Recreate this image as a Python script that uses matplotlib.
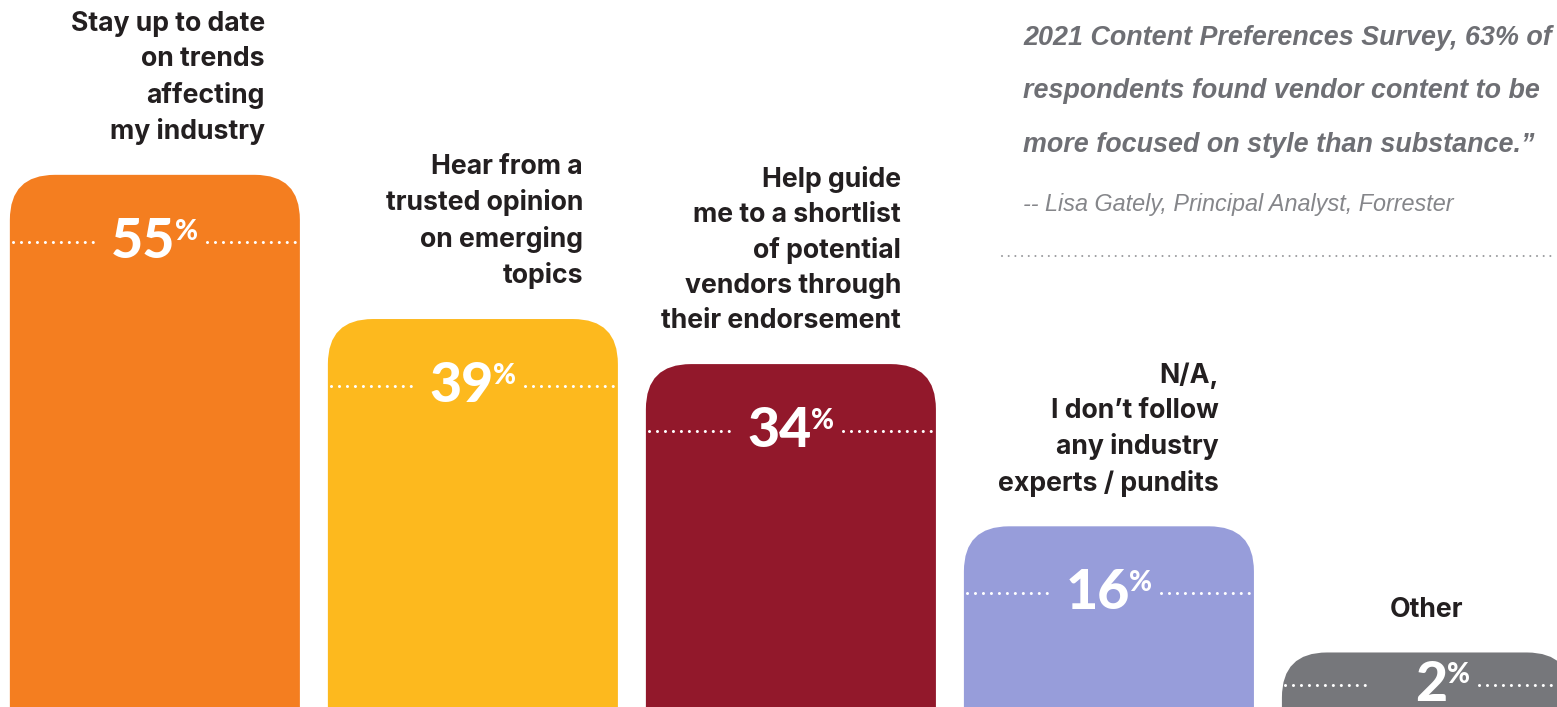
import matplotlib
matplotlib.use("Agg")
import matplotlib.pyplot as plt
from matplotlib.patches import FancyBboxPatch

# survey answers, left to right
categories = [
    "Stay up to date\non trends\naffecting\nmy industry",
    "Hear from a\ntrusted opinion\non emerging\ntopics",
    "Help guide\nme to a shortlist\nof potential\nvendors through\ntheir endorsement",
    "N/A,\nI don\u2019t follow\nany industry\nexperts / pundits",
    "Other",
]
values = [55, 39, 34, 16, 2]
colors = ["#F47E20", "#FDB91E", "#92182B", "#979DDA", "#76777B"]
label_align = ["right", "right", "right", "right", "center"]

quote_lines = [
    "2021 Content Preferences Survey, 63% of",
    "respondents found vendor content to be",
    "more focused on style than substance.\u201d",
]
attribution = "-- Lisa Gately, Principal Analyst, Forrester"

W, H = 1557, 707
fig = plt.figure(figsize=(W / 100, H / 100), dpi=100)
ax = fig.add_axes([0, 0, 1, 1])
x_min, x_max = -0.487, 4.409
y_min, y_max = -4.05, 74.4
ax.set_xlim(x_min, x_max)
ax.set_ylim(y_min, y_max)
ax.axis("off")

px_x = W / (x_max - x_min)   # pixels per category step
px_y = H / (y_max - y_min)   # pixels per percent
bar_w = 0.912
radius = 45 / px_x
base = -12  # bars run off the bottom edge

label_font = "Inter"
num_font = "Lato"
dots = dict(color="white", lw=2.2, linestyle=(0, (0.01, 2.6)),
            dash_capstyle="round")

for i, (cat, v, c) in enumerate(zip(categories, values, colors)):
    left = i - bar_w / 2
    right = i + bar_w / 2
    bar = FancyBboxPatch((left, base), bar_w, v - base,
                         boxstyle="round,pad=0,rounding_size=%f" % radius,
                         mutation_aspect=px_x / px_y,
                         facecolor=c, edgecolor="none")
    ax.add_patch(bar)

    # percentage with a dotted rule through it
    ly = max(v - 7.4, -1.6)
    ax.plot([left + 0.01, i - 0.18], [ly, ly], **dots)
    ax.plot([i + 0.165, right - 0.01], [ly, ly], **dots)
    ax.text(i + 0.065, ly, str(v), ha="right", va="center", color="white",
            fontsize=40, fontweight="black", family=num_font)
    ax.text(i + 0.062, ly + 1.1, "%", ha="left", va="center", color="white",
            fontsize=20, fontweight="black", family=num_font)

    # category label above the bar
    lx = right - 35 / px_x if label_align[i] == "right" else i
    ax.text(lx, v + 3.3, cat, ha=label_align[i], va="bottom",
            color="#231F20", fontsize=19.2, fontweight="bold",
            family=label_font, linespacing=1.45)

# quote in the top right corner
for k, line in enumerate(quote_lines):
    ax.text(1023 / W, 1 - (38 + 53.5 * k) / H, line, transform=ax.transAxes,
            ha="left", va="center", color="#6E6F74", fontsize=19.4,
            fontweight="bold", fontstyle="italic", family="Liberation Sans")
ax.text(1023 / W, 1 - 205 / H, attribution, transform=ax.transAxes,
        ha="left", va="center", color="#85868A", fontsize=16.8,
        fontstyle="italic", family="Liberation Sans")
ax.plot([1002 / W, 1], [1 - 256 / H, 1 - 256 / H], transform=ax.transAxes,
        color="#9A9B9E", lw=1.5, linestyle=(0, (0.01, 3.2)),
        dash_capstyle="round")

fig.savefig("out.png", dpi=100, facecolor="white")
